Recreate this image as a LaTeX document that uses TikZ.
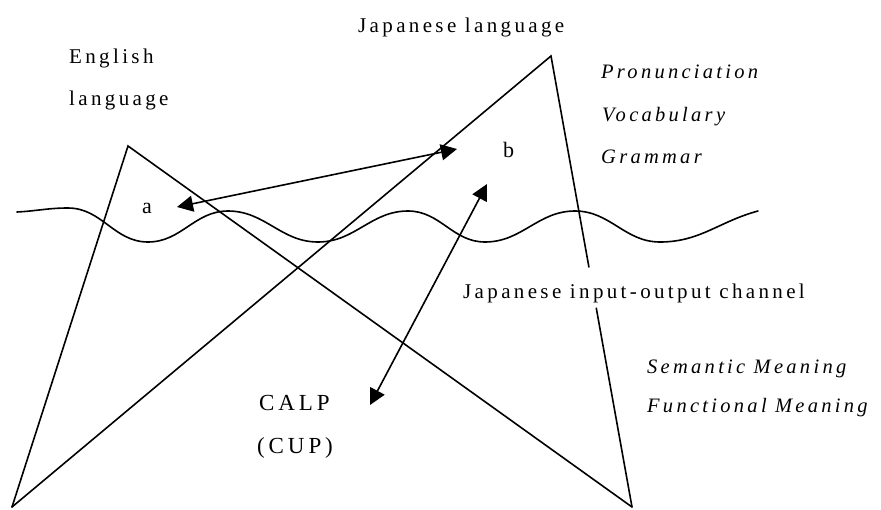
\documentclass[tikz,border=0pt]{standalone}
\usepackage{fontspec}
\setmainfont{Liberation Serif}
\newfontfamily\spaced[LetterSpace=16]{Liberation Serif}
\newfontfamily\spacedcaps[LetterSpace=17]{Liberation Serif}
\usetikzlibrary{arrows.meta,calc}
\begin{document}
\begin{tikzpicture}[x=1pt,y=-1pt,
  edge/.style={line width=1.6pt, line cap=round},
  duplex/.style={line width=1.6pt, {Triangle[length=16pt,width=16pt]}-{Triangle[length=16pt,width=16pt]}},
  lbl/.style={inner sep=0pt, anchor=base west, font=\spaced\fontsize{21}{24}\selectfont},
  capslbl/.style={inner sep=0pt, anchor=base west, font=\spacedcaps\fontsize{23}{26}\selectfont},
  ital/.style={inner sep=0pt, anchor=base west, font=\spaced\itshape\fontsize{20.5}{24}\selectfont},
  letter/.style={inner sep=0pt, anchor=base west, font=\fontsize{22}{24}\selectfont}]
\useasboundingbox (0,0) rectangle (881,509);

% apexes and feet of the two language triangles
\coordinate (E) at (128,146);
\coordinate (J) at (551,56);
\coordinate (L) at (12,507);
\coordinate (R) at (632,507);
\coordinate (Jgap1) at ($(J)!0.468!(R)$);
\coordinate (Jgap2) at ($(J)!0.559!(R)$);

% English triangle
\draw[edge] (L) -- (E) -- (R);
% Japanese triangle (right side broken by the channel label)
\draw[edge] (L) -- (J) -- (Jgap1);
\draw[edge] (Jgap2) -- (R);

% surface wave
\draw[edge] (17,212) to[out=3,in=180] (68,208)
  to[out=0,in=180] (148,242) to[out=0,in=180] (228,211)
  to[out=0,in=180] (318,242) to[out=0,in=180] (408,211)
  to[out=0,in=180] (485,242) to[out=0,in=180] (575,211)
  to[out=0,in=180] (660,242) to[out=0,in=195] (758,211);

% labels
\node[lbl] (eng1) at (69,63) {English};
\node[lbl] (eng2) at (69,105) {language};
\node[lbl] (jap) at (358,32) {Japanese language};
\node[ital] (pron) at (601,78) {Pronunciation};
\node[ital] (voc) at (602,121) {Vocabulary};
\node[ital] (gram) at (601,163) {Grammar};
\node[lbl] (chan) at (463,298) {Japanese input-output channel};
\node[ital] (sem) at (647,373) {Semantic Meaning};
\node[ital] (func) at (647,412) {Functional Meaning};
\node[capslbl] (calp) at (259,410) {CALP};
\node[capslbl] (cup) at (257,453) {(CUP)};
\node[letter] (a) at (142,213) {a};
\node[letter] (b) at (503,157) {b};

% arrow ends
\coordinate (aTip) at (177,207);
\coordinate (bTip) at (457,149);
\coordinate (cTip) at (370,405);
\coordinate (dTip) at (487,184);

\draw[duplex] (aTip) -- (bTip);
\draw[duplex] (cTip) -- (dTip);
\end{tikzpicture}
\end{document}
